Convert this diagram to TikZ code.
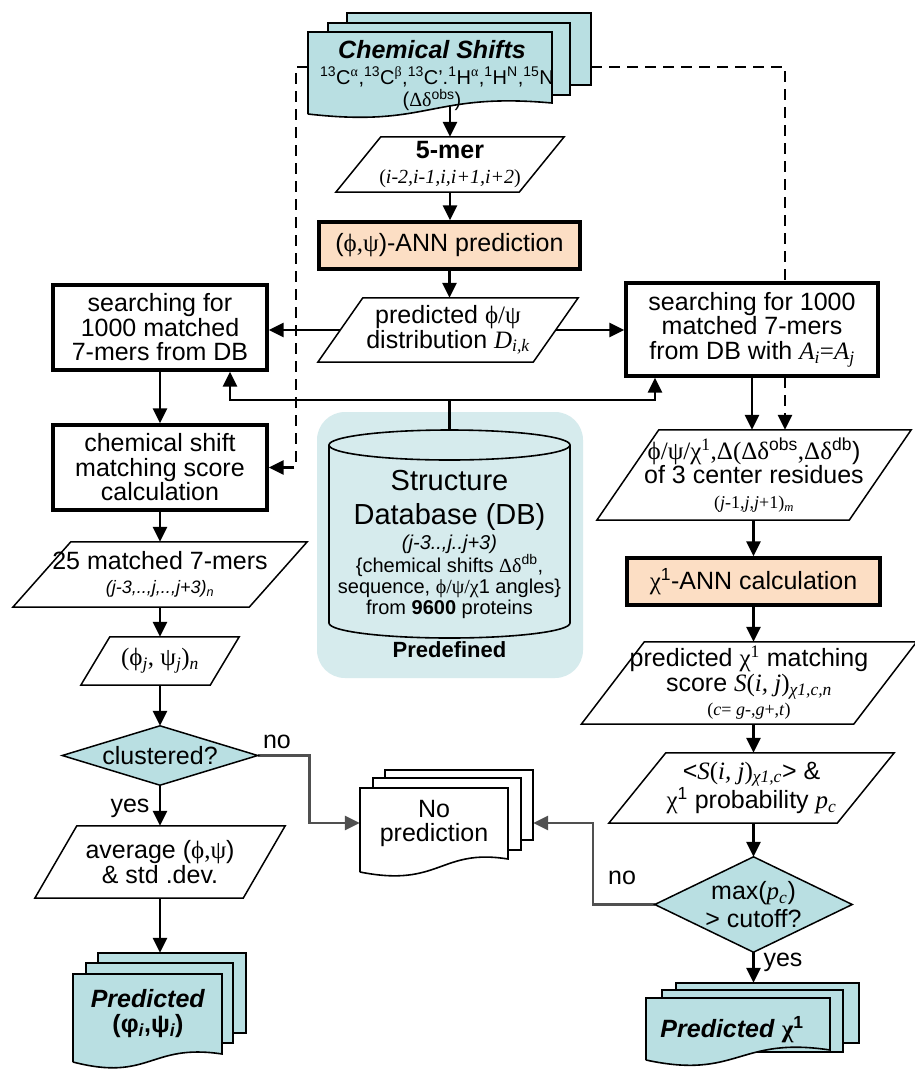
\documentclass[tikz,border=0pt]{standalone}
\usepackage{fontspec}
\setmainfont{Liberation Sans}
\newfontfamily\ser{Liberation Serif}
\usetikzlibrary{arrows.meta,calc}
\pgfdeclarelayer{bglayer}
\pgfdeclarelayer{connlayer}
\pgfdeclarelayer{shplayer}
\pgfsetlayers{bglayer,connlayer,shplayer,main}
\definecolor{cblue}{RGB}{185,223,226}
\definecolor{peach}{RGB}{252,222,196}
\definecolor{dbbg}{RGB}{214,235,237}
\definecolor{gline}{RGB}{80,80,80}
\newcommand\gk[1]{{\ser #1}}
\newcommand\mi[1]{{\ser\itshape #1}}
\newcommand\sps[1]{\textsuperscript{#1}}
\newcommand\sbs[1]{\textsubscript{#1}}
\newcommand\fbig{\fontsize{25}{24.5}\selectfont}
\newcommand\fmid{\fontsize{20}{21}\selectfont}
\newcommand\fsml{\fontsize{18}{20}\selectfont}
\tikzset{
  inv/.style={inner sep=0pt, align=center, font=\fbig},
  thickbox/.style={inv, draw, line width=3.4pt, fill=white},
  parab/.style={draw, line width=1.5pt, fill=white},
  diab/.style={draw, line width=1.5pt, fill=cblue},
  sheet/.style={draw, line width=1.6pt, fill=cblue},
  plainsheet/.style={draw, line width=1.6pt, fill=white},
  arr/.style={line width=2.6pt, -{Triangle[length=15pt,width=14pt]}},
  darr/.style={arr, dash pattern=on 11pt off 7pt},
  garr/.style={line width=2.6pt, draw=gline, -{Triangle[length=15pt,width=14pt]}},
  lbl/.style={inner sep=0pt, font=\fbig}
}
\newcommand\drawpara[2]{\begin{pgfonlayer}{shplayer}\draw[parab] ($(#1.south west)+(-#2/2,0)$) -- ($(#1.north west)+(#2/2,0)$) -- ($(#1.north east)+(#2/2,0)$) -- ($(#1.south east)+(-#2/2,0)$) -- cycle;\end{pgfonlayer}}
\newcommand\drawdia[1]{\begin{pgfonlayer}{shplayer}\draw[diab] (#1.west) -- (#1.north) -- (#1.east) -- (#1.south) -- cycle;\end{pgfonlayer}}
\begin{document}
\begin{tikzpicture}[x=1pt,y=-1pt]
\useasboundingbox (0,0) rectangle (914,1072);
\begin{pgfonlayer}{bglayer}
\fill[white] (0,0) rectangle (914,1072);
\fill[dbbg, rounded corners=28pt] (317,412) rectangle (583,678);
\end{pgfonlayer}

% ---------- nodes ----------
\node[inv, minimum width=283pt, minimum height=108pt] (cs) at (449.5,67) {};
\node[inv, font={\fbig\bfseries\itshape}] (cst1) at (432,50) {Chemical Shifts};
\node[inv, font=\fmid] (cst2) at (437,77) {\sps{13}C\sps{\gk{α}},\sps{13}C\sps{\gk{β}},\sps{13}C'.\sps{1}H\sps{\gk{α}},\sps{1}H\sps{N},\sps{15}N};
\node[inv, font=\fmid] (cst3) at (432,100) {(\gk{Δδ}\sps{obs})};

\node[inv, minimum width=183pt, minimum height=55pt] (m5) at (450,164.5) {\textbf{5-mer}\\{\fmid\ser(\textit{i-2,i-1,i,i+1,i+2})}};
\node[thickbox, fill=peach, minimum width=261pt, minimum height=47pt] (ann) at (449.5,245.5) {(\gk{ϕ,ψ})-ANN prediction};
\node[inv, minimum width=215pt, minimum height=64pt] (pp) at (448,330) {predicted \gk{ϕ/ψ}\\distribution \mi{D}\sbs{\mi{i,k}}};

\node[thickbox, minimum width=214pt, minimum height=85pt] (lb1) at (160,327.5) {searching for\\1000 matched\\7-mers from DB};
\node[thickbox, minimum width=252pt, minimum height=93pt] (rb1) at (752,329.5) {searching for 1000\\matched 7-mers\\from DB with \mi{A}\sbs{\mi{i}}\gk{=}\mi{A}\sbs{\mi{j}}};
\node[thickbox, minimum width=214pt, minimum height=85pt] (lb2) at (160,467.5) {chemical shift\\matching score\\calculation};

\node[inv, minimum width=241pt, minimum height=208pt] (db) at (449.5,534) {};
\node[inv, font={\fontsize{29}{34}\selectfont}] (dbt1) at (449.5,500) {Structure\\Database (DB)};
\node[inv, font=\fmid] (dbt2) at (449.5,576.5) {\textit{(j-3..,j..j+3)}\\\{chemical shifts \gk{Δδ}\sps{db},\\sequence, \gk{ϕ/ψ/χ}1 angles\}\\from \textbf{9600} proteins};
\node[inv, font={\fontsize{22}{22}\selectfont\bfseries}] (dbt3) at (449.5,650) {Predefined};

\node[inv, minimum width=236pt, minimum height=65pt] (p25) at (160,574.5) {25 matched 7-mers\\{\fsml\itshape (j-3,..,j,..,j+3)\sbs{n}}};
\node[inv, minimum width=129pt, minimum height=48pt] (pj) at (160,661) {\ser(ϕ\sbs{\itshape j}, ψ\sbs{\itshape j})\sbs{\itshape n}};
\node[inv, minimum width=195pt, minimum height=59pt] (ldia) at (160,755.5) {clustered?};
\node[inv, minimum width=208pt, minimum height=72pt] (avg) at (160,862) {average (\gk{ϕ,ψ})\\\& std .dev.};
\node[inv, minimum width=173pt, minimum height=115pt] (pps) at (159.5,1010.5) {};
\node[inv, font={\fbig\bfseries}] (ppst) at (148,1013.5) {\textit{Predicted}\\(φ\sbs{\itshape i},ψ\sbs{\itshape i})};

\node[inv, minimum width=173pt, minimum height=106pt] (nps) at (446.5,823) {};
\node[inv] (npst) at (434,823.5) {No\\prediction};

\node[inv, minimum width=252pt, minimum height=90pt] (r1) at (754,475) {\gk{ϕ/ψ/χ}\sps{\gk{1}}\gk{,Δ(Δδ}\sps{obs}\gk{,Δδ}\sps{db})\\of 3 center residues\\{\fsml\ser(\textit{j}-1,\textit{j},\textit{j}+1)\sbs{\textit{m}}}};
\node[thickbox, fill=peach, minimum width=253pt, minimum height=47pt] (cann) at (753.5,581.5) {\gk{χ}\sps{1}-ANN calculation};
\node[inv, minimum width=272pt, minimum height=82pt] (r2) at (749,683) {predicted \gk{χ}\sps{\gk{1}} matching\\score \mi{S}\gk{(}\mi{i, j}\gk{)}\sbs{\mi{χ1,c,n}}\\{\fsml\ser(\textit{c}= \textit{g}-,\textit{g}+,\textit{t})}};
\node[inv, minimum width=228pt, minimum height=70pt] (r3) at (751.5,788) {<\mi{S}\gk{(}\mi{i, j}\gk{)}\sbs{\mi{χ1,c}}> \&\\\gk{χ}\sps{1} probability \mi{p}\sbs{\mi{c}}};
\node[inv, minimum width=197pt, minimum height=95pt] (rdia) at (753.5,904.5) {max(\mi{p}\sbs{\mi{c}})\\[3pt]> cutoff?};
\node[inv, minimum width=213pt, minimum height=85pt] (pcs) at (752.5,1025.5) {};
\node[inv, font={\fbig\bfseries}] (pcst) at (732,1030) {\textit{Predicted} \gk{χ}\sps{1}};

\node[lbl] (lno1) at (277,742) {no};
\node[lbl] (lyes1) at (130,808) {yes};
\node[lbl] (lno2) at (622,878) {no};
\node[lbl] (lyes2) at (783,962) {yes};

% ---------- shapes ----------
\begin{pgfonlayer}{shplayer}
\draw[sheet] (347,13) rectangle (591,85);
\draw[sheet] (328,23) rectangle (570,95);
\draw[sheet] (308,114) -- (308,32) -- (552,32) -- (552,103) .. controls (430,92) and (430,128) .. (308,114);
\draw[plainsheet] (385,770) rectangle (533,840);
\draw[plainsheet] (373,778) rectangle (521,850);
\draw[plainsheet] (360,872) -- (360,788) -- (508,788) -- (508,859) .. controls (440,848) and (440,888) .. (360,872);
\draw[sheet] (98,953) rectangle (246,1033);
\draw[sheet] (86,963) rectangle (233,1043);
\draw[sheet] (73,1062) -- (73,974) -- (222,974) -- (222,1054) .. controls (150,1043) and (150,1082) .. (73,1062);
\draw[sheet] (676,983) rectangle (859,1043);
\draw[sheet] (662,990) rectangle (843,1052);
\draw[sheet] (646,1060) -- (646,998) -- (830,998) -- (830,1050) .. controls (738,1036) and (738,1080) .. (646,1060);
\draw[line width=1.6pt, fill=dbbg] (329,445) -- (329,623) .. controls (329,631.3) and (383,638) .. (449.5,638) .. controls (516,638) and (570,631.3) .. (570,623) -- (570,445);
\draw[line width=1.6pt, fill=dbbg] (449.5,445) ellipse [x radius=120.5, y radius=15];
\end{pgfonlayer}
\drawpara{m5}{45}
\drawpara{pp}{45}
\drawpara{p25}{58}
\drawpara{pj}{29}
\drawpara{avg}{42}
\drawpara{r1}{62}
\drawpara{r2}{63}
\drawpara{r3}{57}
\drawdia{ldia}
\drawdia{rdia}

% ---------- connectors ----------
\coordinate (jn) at (449.5,400);
\begin{pgfonlayer}{connlayer}
\draw[arr] (cs.center -| m5.north) -- (m5.north);
\draw[arr] (m5.south) -- (m5.south |- ann.north);
\draw[arr] (ann.south) -- (ann.south |- pp.north);
\draw[arr] (pp.west) -- (pp.west -| lb1.east);
\draw[arr] (pp.east) -- (pp.east -| rb1.west);
\draw[line width=2.6pt] (db.north) -- (jn);
\draw[arr] (jn) -| ([xshift=70pt]lb1.south);
\draw[arr] (jn) -| ([xshift=-97pt]rb1.south);
\draw[arr] (lb1.south) -- (lb2.north);
\draw[arr] (lb2.south) -- (p25.north);
\draw[arr] (p25.south) -- (pj.north);
\draw[arr] (pj.south) -- (ldia.north);
\draw[arr] (ldia.south) -- (avg.north);
\draw[arr] (avg.south) -- (avg.south |- pps.north);
\draw[darr] (cs.west) -- ++(-12,0) |- (lb2.east);
\draw[darr] (cs.east) -| ([xshift=31pt]r1.north);
\draw[arr] (rb1.south) -- (rb1.south |- r1.north);
\draw[arr] (cann.north |- r1.south) -- (cann.north);
\draw[arr] (cann.south) -- (cann.south |- r2.north);
\draw[arr] (cann.south |- r2.south) -- (cann.south |- r3.north);
\draw[arr] (rdia.north |- r3.south) -- (rdia.north);
\draw[arr] (rdia.south) -- (rdia.south |- pcs.north);
\draw[garr] (ldia.east) -- ++(52,0) |- (nps.west);
\draw[garr] (rdia.west) -- ++(-62,0) |- (nps.east);
\end{pgfonlayer}
\end{tikzpicture}
\end{document}
